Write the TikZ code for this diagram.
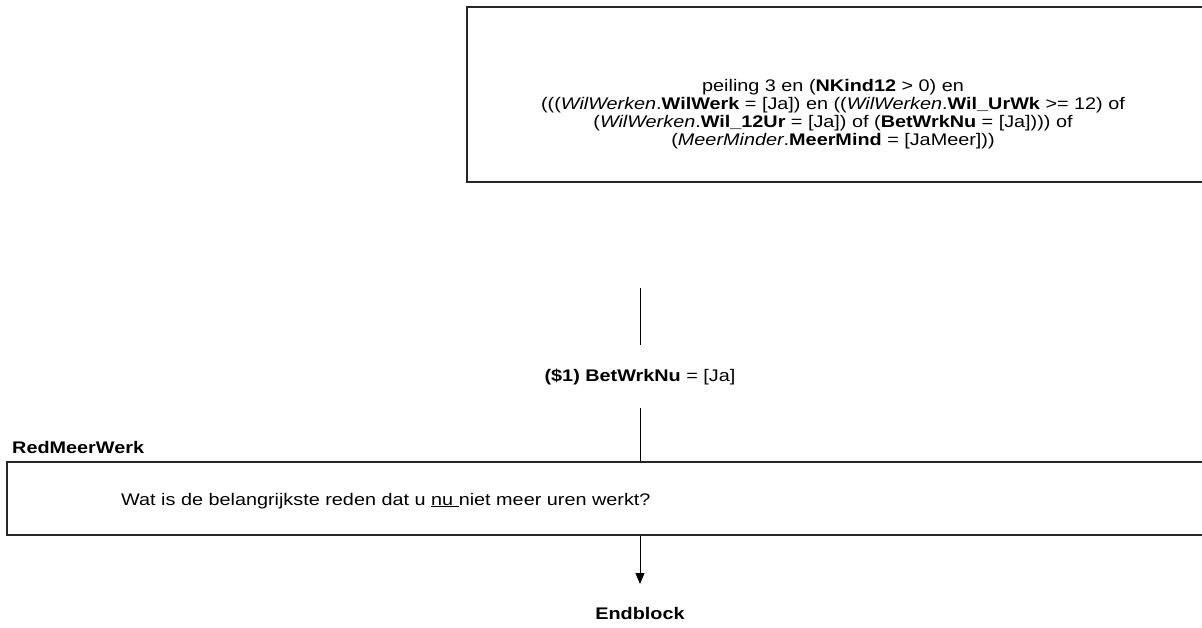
\documentclass[tikz,border=0pt]{standalone}
\usepackage{fontspec}
\setmainfont{Liberation Sans}[FakeStretch=1.18]
\usetikzlibrary{arrows.meta}
\tikzset{
  box/.style={draw=black!85, line width=1.1pt, rectangle, inner sep=0pt},
  txt/.style={font=\fontsize{16.8}{18}\selectfont, inner sep=0pt, align=center},
  conn/.style={draw=black, line width=0.9pt},
  arr/.style={conn, -{Triangle[length=11pt,width=9pt]}}
}
\begin{document}
\begin{tikzpicture}[x=1pt,y=-1pt]
\useasboundingbox (0,0) rectangle (1202,628);
\node[box, minimum width=740pt, minimum height=175pt] (cond) at (837,94.5) {};
\node[txt] (condtxt) at (833,114) {peiling 3 en (\textbf{NKind12} > 0) en\\
(((\textit{WilWerken}.\textbf{WilWerk} = [Ja]) en ((\textit{WilWerken}.\textbf{Wil\_UrWk} >= 12) of\\
(\textit{WilWerken}.\textbf{Wil\_12Ur} = [Ja]) of (\textbf{BetWrkNu} = [Ja]))) of\\
(\textit{MeerMinder}.\textbf{MeerMind} = [JaMeer]))};
\coordinate (c1) at (640,288);
\node[txt] (lab) at (640,377) {\textbf{(\$1) BetWrkNu} = [Ja]};
\node[box, minimum width=1210pt, minimum height=73pt] (q) at (612,498.5) {};
\node[txt, anchor=base west, font=\fontsize{16.8}{19}\selectfont\bfseries] (qname) at (12,453) {RedMeerWerk};
\node[txt, anchor=base west] (qtxt) at (121,505) {Wat is de belangrijkste reden dat u \underline{nu\ }niet meer uren werkt?};
\node[txt, font=\fontsize{16.8}{19}\selectfont\bfseries] (end) at (640,613) {Endblock};
\draw[conn] (c1) -- (lab.north |- 0,345);
\draw[conn] (640,408) -- (q.north -| 640,0);
\draw[arr] (q.south -| 640,0) -- (640,584);
\end{tikzpicture}
\end{document}
